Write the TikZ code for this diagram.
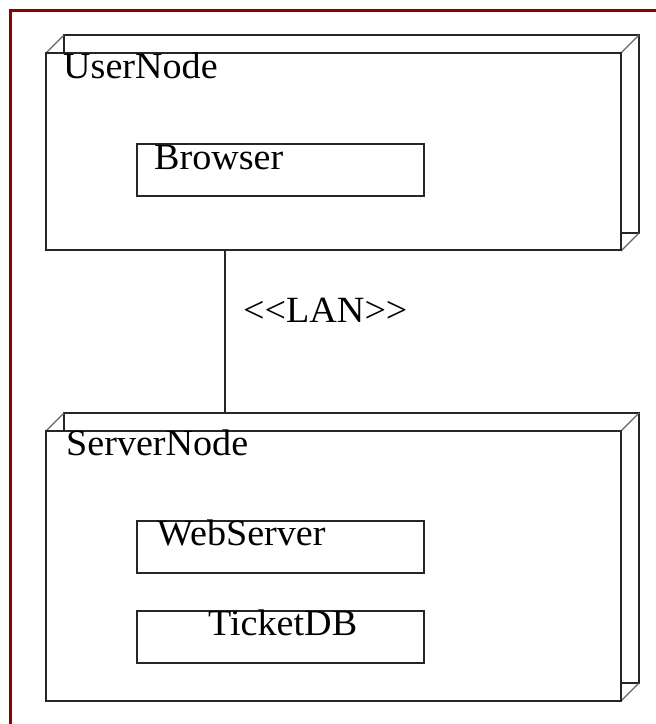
\documentclass[tikz,border=0pt]{standalone}
\usepackage{fontspec}
\setmainfont[FakeStretch=1.03]{Liberation Serif}
\begin{document}
\begin{tikzpicture}[x=1pt,y=-1pt,
  edge/.style={line width=1.7pt, draw=black!85},
  backbox/.style={edge, rectangle, inner sep=0pt, outer sep=0pt, anchor=north west},
  frontbox/.style={edge, rectangle, fill=white, inner sep=0pt, outer sep=0pt, anchor=north west},
  depth/.style={line width=1.3pt, draw=black!60},
  comp/.style={edge, rectangle, fill=white, inner sep=0pt, outer sep=0pt, anchor=north west,
    minimum width=287pt, minimum height=52pt},
  lbl/.style={inner sep=0pt, anchor=base west, font=\fontsize{37}{41}\selectfont}
]
\useasboundingbox (0,0) rectangle (656,724);
\clip (0,0) rectangle (656,724);
\fill[white] (0,0) rectangle (656,724);

% outer frame
\draw[line width=2.6pt, draw=red!55!black] (10.5,800) -- (10.5,10.5) -- (760,10.5);

% UserNode: back face, depth edges, front face
\node[backbox, minimum width=575pt, minimum height=198pt] (userback) at (64,35) {};
\draw[depth] (userback.north west) -- ++(-18,18);
\draw[depth] (userback.north east) -- ++(-18,18);
\draw[depth] (userback.south east) -- ++(-18,18);
\node[frontbox, minimum width=575pt, minimum height=197pt] (user) at (46,53) {};
\node[lbl] (usertitle) at (63,78) {UserNode};
\node[comp] (browser) at (137,144) {};
\node[lbl] (browsertxt) at (154,169) {Browser};

% ServerNode
\node[backbox, minimum width=575pt, minimum height=270pt] (serverback) at (64,413) {};
\draw[depth] (serverback.north west) -- ++(-18,18);
\draw[depth] (serverback.north east) -- ++(-18,18);
\draw[depth] (serverback.south east) -- ++(-18,18);
\node[frontbox, minimum width=575pt, minimum height=270pt] (server) at (46,431) {};
\node[lbl] (servertitle) at (66,455) {ServerNode};
\node[comp] (webserver) at (137,521) {};
\node[lbl] (webservertxt) at (157,545) {WebServer};
\node[comp] (ticketdb) at (137,611) {};
\node[lbl] (ticketdbtxt) at (208,635) {TicketDB};

% communication path
\coordinate (lanx) at (225,0);
\draw[edge] (user.south -| lanx) -- (serverback.north -| lanx);
\node[lbl] (lan) at (243,322) {<{}<LAN>{}>};
\end{tikzpicture}
\end{document}
